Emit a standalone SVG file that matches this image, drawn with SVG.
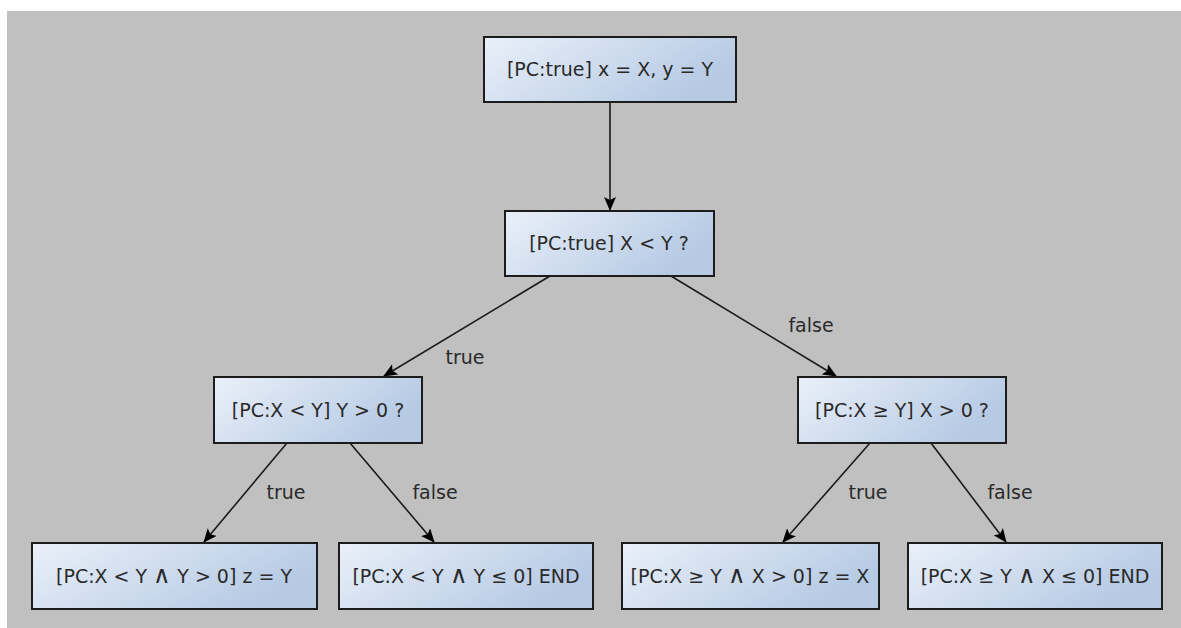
<svg xmlns="http://www.w3.org/2000/svg" width="1181" height="628" viewBox="0 0 1181 628">
  <defs>
    <linearGradient id="nodeFill" x1="0" y1="0" x2="1" y2="0.4">
      <stop offset="0" stop-color="#eaf0f9"/>
      <stop offset="1" stop-color="#b6cae4"/>
    </linearGradient>
    <marker id="arrow" viewBox="0 0 14 12" refX="13" refY="6" markerWidth="14" markerHeight="12" markerUnits="userSpaceOnUse" orient="auto">
      <path d="M0,0 L14,6 L0,12 L3,6 Z" fill="#000"/>
    </marker>
    <style>
      .node rect { fill: url(#nodeFill); stroke: #1c1c1c; stroke-width: 2; }
      .node text { font-family: "DejaVu Sans", sans-serif; font-size: 19px; fill: #2a2a2a; text-anchor: middle; }
      .edge { stroke: #1a1a1a; stroke-width: 1.6; fill: none; marker-end: url(#arrow); }
      .label { font-family: "DejaVu Sans", sans-serif; font-size: 19px; fill: #2a2a2a; text-anchor: middle; }
      .and { font-size: 1.25em; font-weight: 200; }
    </style>
  </defs>

  <!-- page and canvas -->
  <rect x="0" y="0" width="1181" height="628" fill="#ffffff"/>
  <rect x="7" y="11" width="1174" height="617" fill="#c0c0c0"/>

  <!-- connectors -->
  <g id="edges">
    <line class="edge" x1="610" y1="102" x2="610" y2="210"/>
    <line class="edge" x1="550" y1="276" x2="384" y2="376"/>
    <line class="edge" x1="671" y1="276" x2="836" y2="376"/>
    <line class="edge" x1="287" y1="443" x2="204" y2="542"/>
    <line class="edge" x1="350" y1="443" x2="434" y2="542"/>
    <line class="edge" x1="870" y1="443" x2="783" y2="542"/>
    <line class="edge" x1="931" y1="443" x2="1006" y2="542"/>
    <text class="label" x="465" y="364">true</text>
    <text class="label" x="811" y="332">false</text>
    <text class="label" x="286" y="499">true</text>
    <text class="label" x="435" y="499">false</text>
    <text class="label" x="868" y="499">true</text>
    <text class="label" x="1010" y="499">false</text>
  </g>

  <g id="n-root" class="node">
    <rect x="484" y="37" width="252" height="65"/>
    <text x="610" y="76">[PC:true] x = X, y = Y</text>
  </g>
  <g id="n-cmp" class="node">
    <rect x="505" y="211" width="209" height="65"/>
    <text x="609" y="250">[PC:true] X &lt; Y ?</text>
  </g>
  <g id="n-lt" class="node">
    <rect x="214" y="377" width="208" height="66"/>
    <text x="318" y="417">[PC:X &lt; Y] Y &gt; 0 ?</text>
  </g>
  <g id="n-ge" class="node">
    <rect x="798" y="377" width="208" height="66"/>
    <text x="902" y="417">[PC:X ≥ Y] X &gt; 0 ?</text>
  </g>
  <g id="n-lt-pos" class="node">
    <rect x="32" y="543" width="285" height="66"/>
    <text x="174" y="583">[PC:X &lt; Y <tspan class="and">∧</tspan> Y &gt; 0] z = Y</text>
  </g>
  <g id="n-lt-neg" class="node">
    <rect x="339" y="543" width="254" height="66"/>
    <text x="466" y="583">[PC:X &lt; Y <tspan class="and">∧</tspan> Y ≤ 0] END</text>
  </g>
  <g id="n-ge-pos" class="node">
    <rect x="622" y="543" width="257" height="66"/>
    <text x="750" y="583">[PC:X ≥ Y <tspan class="and">∧</tspan> X &gt; 0] z = X</text>
  </g>
  <g id="n-ge-neg" class="node">
    <rect x="908" y="543" width="254" height="66"/>
    <text x="1035" y="583">[PC:X ≥ Y <tspan class="and">∧</tspan> X ≤ 0] END</text>
  </g>
</svg>
